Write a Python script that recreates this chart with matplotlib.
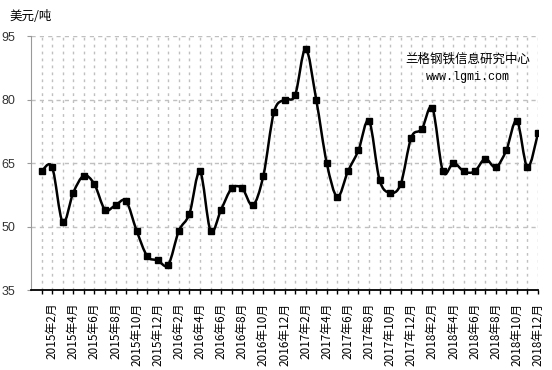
import numpy as np
import matplotlib
matplotlib.use('Agg')
import matplotlib.pyplot as plt
from matplotlib.path import Path
from matplotlib.patches import PathPatch

plt.rcParams['font.family'] = ['Liberation Sans', 'Noto Sans CJK SC']

# monthly price, 2015-01 .. 2018-12 (USD/t)
months = [f"{y}年{m}月" for y in range(2015, 2019) for m in range(1, 13)]
prices = [63, 64, 51, 58, 62, 60, 54, 55, 56, 49, 43, 42,
          41, 49, 53, 63, 49, 54, 59, 59, 55, 62, 77, 80,
          81, 92, 80, 65, 57, 63, 68, 75, 61, 58, 60, 71,
          73, 78, 63, 65, 63, 63, 66, 64, 68, 75, 64, 72]
yticks = [35, 50, 65, 80, 95]

x = np.arange(len(prices))
y = np.array(prices, dtype=float)

fig = plt.figure(figsize=(5.52, 3.70), dpi=100)
ax = fig.add_axes([0.0562, 0.2162, 0.9184, 0.6865])

# smoothed line (Excel-like bezier through points)
verts = [(x[0], y[0])]
codes = [Path.MOVETO]
n = len(x)
for i in range(n - 1):
    p0 = np.array([x[max(i - 1, 0)], y[max(i - 1, 0)]])
    p1 = np.array([x[i], y[i]])
    p2 = np.array([x[i + 1], y[i + 1]])
    p3 = np.array([x[min(i + 2, n - 1)], y[min(i + 2, n - 1)]])
    c1 = p1 + (p2 - p0) / 6
    c2 = p2 - (p3 - p1) / 6
    verts += [tuple(c1), tuple(c2), tuple(p2)]
    codes += [Path.CURVE4] * 3
ax.add_patch(PathPatch(Path(verts, codes), facecolor='none',
                       edgecolor='black', lw=1.8, zorder=3))
ax.plot(x, y, linestyle='none', marker='s', ms=4.5, color='black', zorder=4)

ax.set_xlim(-1, n - 1)
ax.set_ylim(35, 95)
ax.set_yticks(yticks)
ax.set_xticks(x)
ax.set_xticklabels([m if i % 2 == 1 else '' for i, m in enumerate(months)],
                   rotation=90, fontsize=8.5, family=['Noto Sans CJK SC'])
ax.tick_params(axis='x', length=3, width=1, color='black', pad=6)
ax.tick_params(axis='y', length=3, color='#999999', labelsize=9, pad=8)
for lbl in ax.get_yticklabels():
    lbl.set_color('#333333')

ax.grid(axis='y', color='#c0c0c0', linestyle=(0, (3, 3)), lw=1)
ax.grid(axis='x', color='#c0c0c0', linestyle=(0, (2, 3)), lw=1)
ax.set_axisbelow(True)

ax.spines['top'].set_visible(False)
ax.spines['right'].set_visible(False)
ax.spines['left'].set_color('#999999')
ax.spines['bottom'].set_color('black')
ax.spines['bottom'].set_linewidth(1.3)

fig.text(0.018, 0.955, '美元/吨', fontsize=9, family=['Noto Sans CJK SC'],
         va='center', ha='left')
fig.text(0.847, 0.840, '兰格钢铁信息研究中心', fontsize=9,
         family=['Noto Sans CJK SC'], ha='center', va='center')
fig.text(0.847, 0.792, 'www.lgmi.com', fontsize=8.5,
         family=['Liberation Mono'], ha='center', va='center')

fig.savefig('out.png', dpi=100)
